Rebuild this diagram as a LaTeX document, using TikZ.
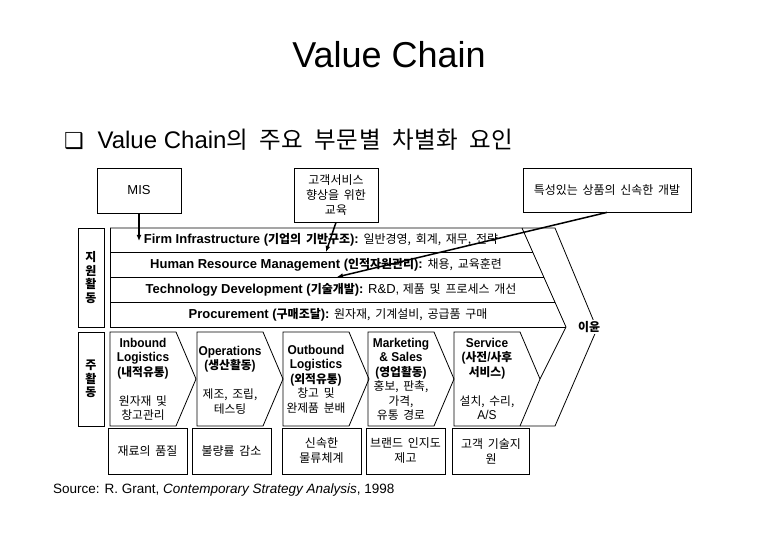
\documentclass[tikz,border=0pt]{standalone}
\usepackage{fontspec}
\setmainfont{Liberation Sans}
\newfontfamily\kr[Scale=0.92, WordSpace=1.8]{Noto Sans CJK KR}
\newfontfamily\krsub[Scale=0.98, WordSpace=2.0, LetterSpace=2]{Noto Sans CJK KR}
\newfontfamily\cond[FakeStretch=0.93]{Liberation Sans}
\newfontfamily\dingfont{DejaVu Sans}
\usetikzlibrary{arrows.meta, positioning, calc}
\newcommand{\ko}[1]{{\kr #1}}
\tikzset{
	frame/.style  ={draw=black, line width=0.8pt},
	topbox/.style ={rectangle, draw=black, line width=0.8pt, align=center, inner sep=1pt, font=\kr\fontsize{13}{15}\selectfont},
	lowbox/.style ={rectangle, draw=black, line width=0.8pt, minimum width=79pt, minimum height=46pt, align=center, inner sep=1pt, font=\kr\fontsize{13}{15}\selectfont},
	sidelbl/.style={rectangle, draw=black, line width=0.8pt, minimum width=26pt, align=center, inner sep=0pt, font=\kr\bfseries\fontsize{13}{13.5}\selectfont},
	rowtxt/.style ={inner sep=0pt, font=\fontsize{13}{15}\selectfont},
	acttxt/.style ={inner sep=0pt, align=center, font=\cond\fontsize{12.8}{14.5}\selectfont},
	hint/.style   ={-{Latex[length=6pt,width=5pt]}, line width=1.5pt},
}
\begin{document}
\begin{tikzpicture}[x=1pt, y=-1pt]
	\fill[white] (0,0) rectangle (780,540);
	\useasboundingbox (0,0) rectangle (780,540);
	% headings
	\node[anchor=base, font=\fontsize{36}{40}\selectfont] (title) at (389,68) {Value Chain};
	\node[anchor=base west, inner sep=0pt, font=\fontsize{24}{27}\selectfont] (subtitle) at (64,149) {{\dingfont\fontsize{22}{26}\selectfont ❑}\hspace{7pt} Value Chain{\krsub 의 주요 부문별 차별화 요인}};
	% notes above the chain
	\node[topbox, minimum width=84pt, minimum height=45pt, font=\fontsize{13}{15}\selectfont] (mis) at (139,190.5) {MIS};
	\node[topbox, minimum width=84pt, minimum height=54pt] (edu) at (336,195) {고객서비스\\향상을 위한\\교육};
	\node[topbox, minimum width=168pt, minimum height=44pt] (trait) at (607,190) {특성있는 상품의 신속한 개발};
	% support activities
	\coordinate (sTL) at (110,228);
	\coordinate (sIn) at (522,228);
	\coordinate (sOut) at (555,228);
	\coordinate (inTip) at (566,327);
	\coordinate (outTip) at (597,329);
	\coordinate (outBot) at (555,426);
	\coordinate (svBot) at (520,426);
	\draw[frame] (sTL) -- (sOut) -- (outTip) -- (outBot) -- (svBot);
	\draw[frame] (sTL) -- (110,327) -- (inTip);
	\draw[frame] (sIn) -- (inTip) -- (540,379);
	\draw[frame] (110,252) -- (532.7,252);
	\draw[frame] (110,277) -- (543.8,277);
	\draw[frame] (110,302) -- (554.9,302);
	\node[sidelbl, minimum height=99pt] (support) at (91,277.5) {지\\원\\활\\동};
	\node[rowtxt] (infra) at (321,240) {\textbf{Firm Infrastructure (\ko{기업의 기반구조}):} \ko{일반경영, 회계, 재무, 전략}};
	\node[rowtxt] (hrm) at (326,264.5) {\textbf{Human Resource Management (\ko{인적자원관리}):} \ko{채용, 교육훈련}};
	\node[rowtxt] (tech) at (331,289.5) {\textbf{Technology Development (\ko{기술개발}):} R\&D, \ko{제품 및 프로세스 개선}};
	\node[rowtxt] (proc) at (338,314.5) {\textbf{Procurement (\ko{구매조달}):} \ko{원자재, 기계설비, 공급품 구매}};
	\node[fill=white, inner sep=1pt, font=\kr\bfseries\fontsize{13}{15}\selectfont] (margin) at (589,327) {이윤};
	% primary activities
	\node[sidelbl, minimum height=94pt] (primary) at (91,379) {주\\활\\동};
	\draw[frame] (110,332) -- ++(66,0) -- ++(20,47) -- ++(-20,47) -- ++(-66,0) -- cycle;
	\draw[frame] (197,332) -- ++(66,0) -- ++(20,47) -- ++(-20,47) -- ++(-66,0) -- cycle;
	\draw[frame] (283,332) -- ++(66,0) -- ++(20,47) -- ++(-20,47) -- ++(-66,0) -- cycle;
	\draw[frame] (368,332) -- ++(66,0) -- ++(20,47) -- ++(-20,47) -- ++(-66,0) -- cycle;
	\draw[frame] (454,332) -- ++(66,0) -- ++(20,47) -- ++(-20,47) -- ++(-66,0) -- cycle;
	\node[acttxt] (inbound) at (143,379.5) {\textbf{Inbound}\\ \textbf{Logistics}\\ \textbf{(\ko{내적유통})}\\[14.5pt] \ko{원자재 및}\\ \ko{창고관리}};
	\node[acttxt] (ops) at (230,380) {\textbf{Operations}\\ \textbf{(\ko{생산활동})}\\[14.5pt] \ko{제조, 조립,}\\ \ko{테스팅}};
	\node[acttxt] (outbound) at (316,379) {\textbf{Outbound}\\ \textbf{Logistics}\\ \textbf{(\ko{외적유통})}\\ \ko{창고 및}\\ \ko{완제품 분배}};
	\node[acttxt] (mkt) at (401,379.5) {\textbf{Marketing}\\ \textbf{\& Sales}\\ \textbf{(\ko{영업활동})}\\ \ko{홍보, 판촉,}\\ \ko{가격,}\\ \ko{유통 경로}};
	\node[acttxt] (svc) at (487,379) {\textbf{Service}\\ \textbf{(\ko{사전}/\ko{사후}}\\ \textbf{\ko{서비스})}\\[14.5pt] \ko{설치, 수리,}\\ A/S};
	% differentiation per activity
	\node[lowbox] (quality) at (147.5,451) {재료의 품질};
	\node[lowbox] (defect) at (231.5,451) {불량률 감소};
	\node[lowbox] (logis) at (321.5,451) {신속한\\물류체계};
	\node[lowbox] (brand) at (405.5,451) {브랜드 인지도\\제고};
	\node[lowbox, minimum width=77pt] (support2) at (491,451) {고객 기술지\\원};
	\node[anchor=base west, inner sep=0pt, font=\fontsize{13.5}{16}\selectfont] (source) at (53,493) {Source: R. Grant, \textit{Contemporary Strategy Analysis}, 1998};
	% pointers
	\coordinate (misEnd) at (139,241);
	\coordinate (eduEnd) at (326,252);
	\coordinate (traitEnd) at (337,277);
	\draw[hint] (mis.south) -- (misEnd);
	\draw[hint] (edu.south) -- (eduEnd);
	\draw[hint] (trait.south) -- (traitEnd);
\end{tikzpicture}
\end{document}
